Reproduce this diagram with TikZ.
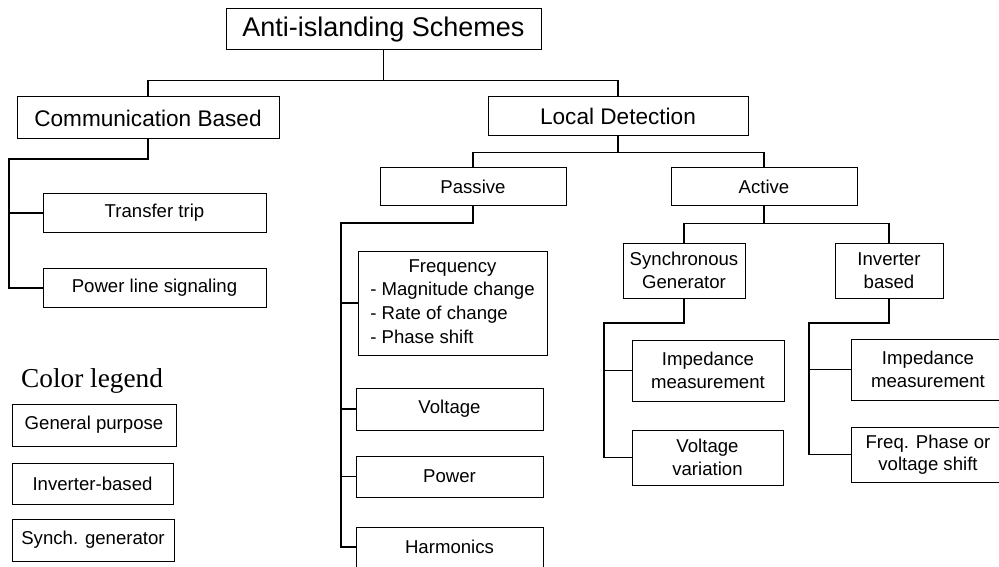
\documentclass[tikz,border=0pt]{standalone}
\usepackage{fontspec}
\setmainfont{Liberation Sans}
\newfontfamily\legendfont{Liberation Serif}
\usetikzlibrary{positioning}

\begin{document}
\begin{tikzpicture}[x=1pt, y=-1pt,
	box/.style={draw, line width=1pt, inner sep=0pt, align=center, font=\fontsize{18.6}{22.5}\selectfont},
	midbox/.style={box, font=\fontsize{22.6}{27}\selectfont},
	rootbox/.style={box, font=\fontsize{27}{32}\selectfont},
	wire/.style={line width=1.3pt}]

\useasboundingbox (0,0) rectangle (999,567);
\clip (0,0) rectangle (999,567);

% tree
\node [rootbox, minimum width=315pt, minimum height=41pt]	(root) at (383.5,29.5)	{Anti-islanding Schemes};
\node [midbox, minimum width=262pt, minimum height=42pt]	(comm) at (148,118)	{Communication Based};
\node [midbox, minimum width=260pt, minimum height=39pt]	(local) at (618,116.5)	{Local Detection};
\node [box, minimum width=186pt, minimum height=37pt]		(passive) at (473,186.5)	{Passive};
\node [box, minimum width=186pt, minimum height=37pt]		(active) at (764,186.5)	{Active};

\node [box, minimum width=223pt, minimum height=39pt]	(transfer) at (154.5,213)	{Transfer trip};
\node [box, minimum width=223pt, minimum height=39pt]	(powerline) at (154.5,288)	{Power line signaling};

\node [box, minimum width=189pt, minimum height=104pt, font=\fontsize{18.6}{23.8}\selectfont]	(freq) at (452.5,303)
	{\begin{tabular}{@{}l@{}}\multicolumn{1}{@{}c@{}}{Frequency}\\- Magnitude change\\- Rate of change\\- Phase shift\end{tabular}};
\node [box, minimum width=187pt, minimum height=42pt]	(voltage) at (449.5,409)	{Voltage};
\node [box, minimum width=187pt, minimum height=41pt]	(power) at (449.5,476.5)	{Power};
\node [box, minimum width=187pt, minimum height=40pt]	(harmonics) at (449.5,547)	{Harmonics};

\node [box, minimum width=122pt, minimum height=55pt]	(syncgen) at (684,270.5)	{Synchronous\\Generator};
\node [box, minimum width=108pt, minimum height=55pt]	(invb) at (889,270.5)	{Inverter\\based};
\node [box, minimum width=152pt, minimum height=61pt]	(sgimp) at (708,370.5)	{Impedance\\measurement};
\node [box, minimum width=151pt, minimum height=55pt]	(sgvolt) at (707.5,457.5)	{Voltage\\variation};
\node [box, minimum width=154pt, minimum height=61pt]	(ibimp) at (928,369.5)	{Impedance\\measurement};
\node [box, minimum width=154pt, minimum height=55pt]	(ibfreq) at (928,454.5)	{Freq. Phase or\\voltage shift};

% legend
\node [anchor=base west, inner sep=0pt, font=\legendfont\fontsize{27.3}{32}\selectfont]	(legend) at (21,387)	{Color legend};
\node [box, minimum width=164pt, minimum height=42pt]	(general) at (94,425)	{General purpose};
\node [box, minimum width=161pt, minimum height=41pt]	(inverter) at (92.5,483.5)	{Inverter-based};
\node [box, minimum width=162pt, minimum height=42pt]	(synch) at (93,540)	{Synch. generator};

% connectors
\coordinate (cspine) at (9,159);
\coordinate (pspine) at (341,223);
\coordinate (sspine) at (604,323);
\coordinate (ispine) at (809,323);

\draw [wire] (root.south) -- ++(0,30) -| (comm.north);
\draw [wire] (root.south) -- ++(0,30) -| (local.north);
\draw [wire] (local.south) -- ++(0,16) -| (passive.north);
\draw [wire] (local.south) -- ++(0,16) -| (active.north);
\draw [wire] (active.south) -- ++(0,18) -| (syncgen.north);
\draw [wire] (active.south) -- ++(0,18) -| (invb.north);

\draw [wire] (comm.south) |- (cspine) |- (powerline.west);
\draw [wire] (cspine |- transfer.west) -- (transfer.west);

\draw [wire] (passive.south) |- (pspine) |- (harmonics.west);
\foreach \n in {freq,voltage,power}
	\draw [wire] (pspine |- \n.west) -- (\n.west);

\draw [wire] (syncgen.south) |- (sspine) |- (sgvolt.west);
\draw [wire] (sspine |- sgimp.west) -- (sgimp.west);
\draw [wire] (invb.south) |- (ispine) |- (ibfreq.west);
\draw [wire] (ispine |- ibimp.west) -- (ibimp.west);

\end{tikzpicture}
\end{document}
